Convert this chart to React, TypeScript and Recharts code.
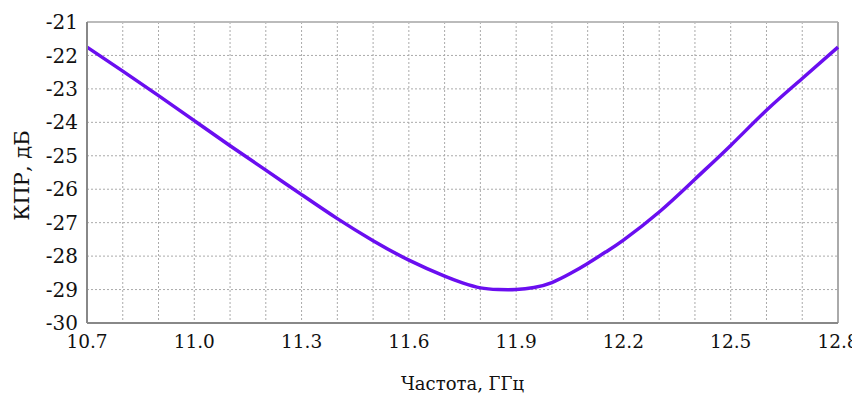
import React from 'react';
import { LineChart, Line, XAxis, YAxis, CartesianGrid, ReferenceLine } from 'recharts';

const freqs = [10.7, 10.8, 10.9, 11.0, 11.1, 11.2, 11.3, 11.4, 11.5, 11.6, 11.7, 11.75, 11.8, 11.85, 11.9, 11.95, 12.0, 12.05, 12.1, 12.15, 12.2, 12.3, 12.4, 12.5, 12.6, 12.7, 12.8];
const kpr = [-21.75, -22.47, -23.2, -23.95, -24.7, -25.43, -26.16, -26.88, -27.54, -28.12, -28.6, -28.8, -28.95, -29.0, -29.0, -28.94, -28.79, -28.53, -28.22, -27.88, -27.52, -26.68, -25.7, -24.69, -23.64, -22.69, -21.75];

const xTicks = [10.7, 10.8, 10.9, 11.0, 11.1, 11.2, 11.3, 11.4, 11.5, 11.6, 11.7, 11.8, 11.9, 12.0, 12.1, 12.2, 12.3, 12.4, 12.5, 12.6, 12.7, 12.8];
const yTicks = [-30, -29, -28, -27, -26, -25, -24, -23, -22, -21];

const xLabel = 'Частота, ГГц';
const yLabel = 'КПР, дБ';

const data = freqs.map((f, i) => ({ f, v: kpr[i] }));

const FONT = 'DejaVu Serif, Liberation Serif, serif';
const textStyle = { fontFamily: FONT };

export default function App() {
  const xFmt = (v: number) => (Math.round(v * 10) % 3 === 2 ? v.toFixed(1) : '');
  return (
    <div style={{ width: 852, height: 388, fontFamily: FONT }}>
      <style>{'html,body{overflow:hidden} .recharts-surface{overflow:visible !important} .recharts-wrapper{overflow:visible !important}'}</style>
      <LineChart width={872} height={388} data={data} margin={{ top: 14, right: 42, left: 0, bottom: 0 }} style={{ fontFamily: FONT }}>
        <CartesianGrid stroke="#aaa" strokeDasharray="2 2" />
        <XAxis
          dataKey="f"
          type="number"
          domain={[10.7, 12.8]}
          ticks={xTicks}
          tickFormatter={xFmt}
          interval={0}
          height={73}
          tickSize={0}
          tickMargin={12}
          axisLine={{ stroke: '#888', strokeWidth: 2 }}
          tick={{ fill: '#111', fontSize: 18.5, fontFamily: FONT, style: textStyle }}
          label={{ value: xLabel, position: 'insideBottom', offset: 6, fill: '#111', fontSize: 18, fontFamily: FONT, style: textStyle }}
        />
        <YAxis
          type="number"
          domain={[-30, -21]}
          ticks={yTicks}
          interval={0}
          width={79}
          tickSize={0}
          tickMargin={9}
          axisLine={{ stroke: '#888', strokeWidth: 2 }}
          tick={{ fill: '#111', fontSize: 20, fontFamily: FONT, style: textStyle }}
          label={{ value: yLabel, angle: -90, position: 'insideLeft', offset: 14, dy: 3, fill: '#111', fontSize: 21, fontFamily: FONT, style: { textAnchor: 'middle', fontFamily: FONT } }}
        />
        <ReferenceLine y={-21} stroke="#bbb" strokeWidth={2} />
        <ReferenceLine x={12.8} stroke="#aaa" strokeWidth={2} />
        <Line
          type="natural"
          dataKey="v"
          stroke="#6a0ef0"
          strokeWidth={3.5}
          dot={false}
          isAnimationActive={false}
        />
      </LineChart>
    </div>
  );
}
